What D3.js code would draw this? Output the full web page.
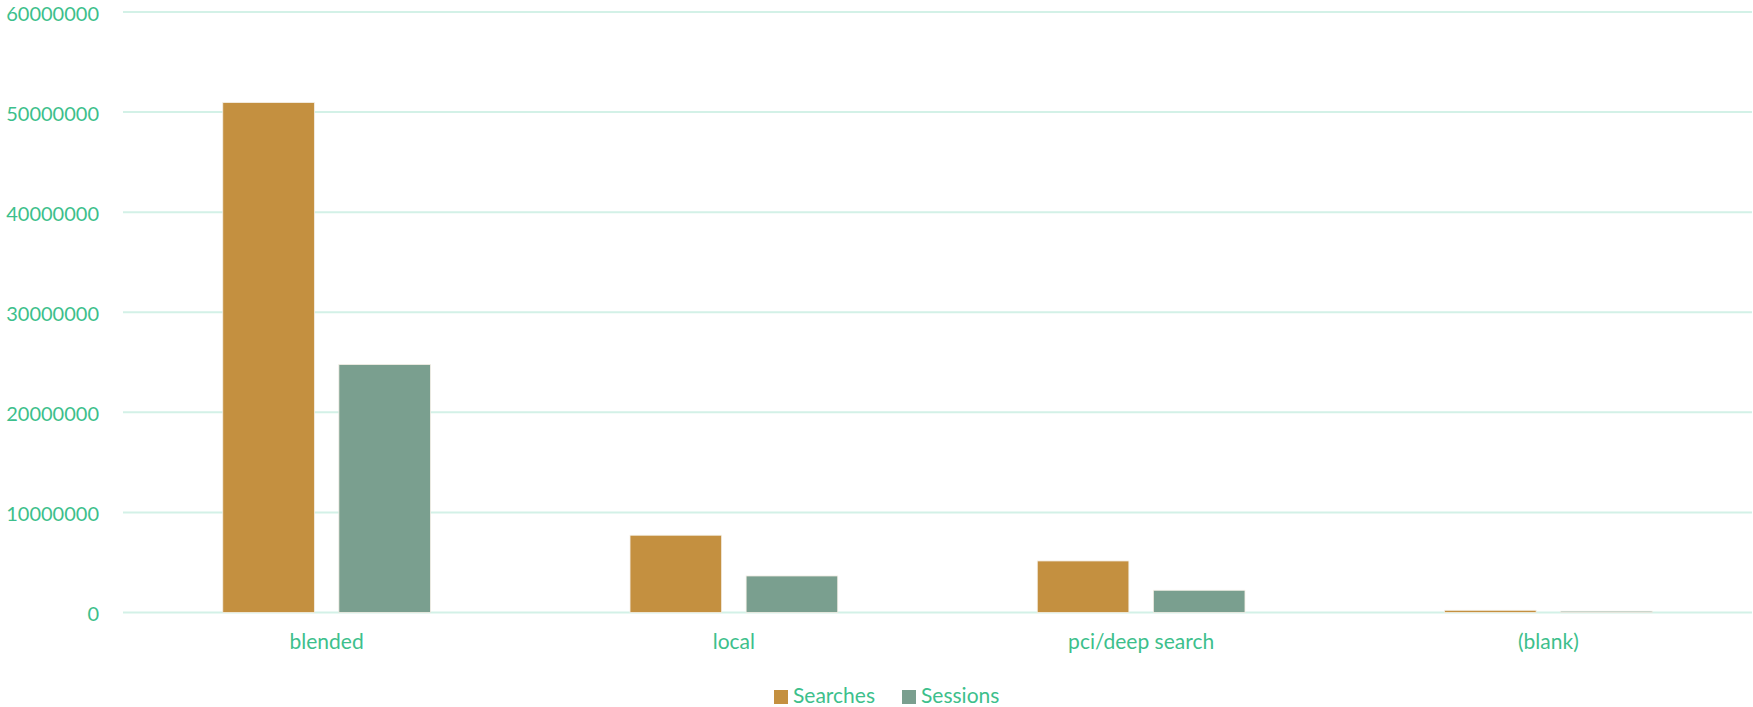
<!DOCTYPE html>
<html lang="en">
  <head>
    <meta charset="UTF-8" />
    <title>searches vs sessions</title>
    <style>
      body {
        margin: 0;
        background: #fff;
        font-family: "Lato", "Noto Sans", sans-serif;
        overflow: hidden;
      }
      .grid line {
        stroke: #d3f1e7;
        stroke-width: 2px;
      }
      .tick text {
        fill: #3dbf8c;
      }
      .legend text {
        fill: #3dbf8c;
      }
    </style>
  </head>
  <body>
    <div id="chart"></div>
    <script src="https://d3js.org/d3.v7.min.js"></script>
    <script>
      // values
      const categories = ["blended", "local", "pci/deep search", "(blank)"];
      const seriesNames = ["Searches", "Sessions"];
      const searches = [50950000, 7720000, 5150000, 220000];
      const sessions = [24780000, 3650000, 2220000, 130000];
      const yTicks = [0, 10000000, 20000000, 30000000, 40000000, 50000000, 60000000];
      const colors = ["#c49040", "#7a9f8f"];

      const width = 1753;
      const height = 707;
      const margin = { top: 12, right: 1, bottom: 94, left: 123 };

      const svg = d3.select("#chart")
        .append("svg")
        .attr("width", width)
        .attr("height", height);

      const x0 = d3.scaleBand()
        .domain(categories)
        .range([margin.left, width - margin.right])
        .paddingInner(0.49)
        .paddingOuter(0.245);

      const x1 = d3.scaleBand()
        .domain(seriesNames)
        .range([0, x0.bandwidth()])
        .paddingInner(0.211);

      const y = d3.scaleLinear()
        .domain([0, 60000000])
        .range([height - margin.bottom - 0.5, margin.top]);

      // gridlines
      svg.append("g")
        .attr("class", "grid")
        .selectAll("line")
        .data(yTicks)
        .join("line")
        .attr("x1", margin.left)
        .attr("x2", width - margin.right)
        .attr("y1", d => y(d))
        .attr("y2", d => y(d));

      // y axis labels
      const yAxis = svg.append("g")
        .attr("transform", `translate(${margin.left - 24},0)`)
        .call(d3.axisLeft(y).tickValues(yTicks).tickFormat(d3.format("d")).tickSize(0).tickPadding(0));
      yAxis.select(".domain").remove();
      yAxis.selectAll("text")
        .attr("font-size", 20)
        .attr("dy", "8px")
        .attr("font-family", "Lato, sans-serif");

      // bars
      const rows = categories.map((c, i) => ({ cat: c, vals: [searches[i], sessions[i]] }));

      svg.append("g")
        .selectAll("g")
        .data(rows)
        .join("g")
        .attr("transform", d => `translate(${x0(d.cat)},0)`)
        .selectAll("rect")
        .data(d => d.vals.map((v, j) => ({ key: seriesNames[j], value: v, j })))
        .join("rect")
        .attr("x", d => x1(d.key))
        .attr("y", d => y(d.value))
        .attr("width", x1.bandwidth())
        .attr("height", d => y(0) - y(d.value))
        .attr("fill", d => colors[d.j])
        .attr("stroke", "#f4efe6")
        .attr("stroke-width", 0.8);

      // category labels
      const xAxis = svg.append("g")
        .attr("transform", `translate(0,${y(0)})`)
        .call(d3.axisBottom(x0).tickSize(0).tickPadding(22));
      xAxis.select(".domain").remove();
      xAxis.selectAll("text")
        .attr("font-size", 21)
        .attr("font-family", "Lato, sans-serif");

      // legend
      const legend = svg.append("g").attr("class", "legend");
      const legendX = [774, 902];
      seriesNames.forEach((name, i) => {
        legend.append("rect")
          .attr("x", legendX[i])
          .attr("y", 690)
          .attr("width", 14)
          .attr("height", 14)
          .attr("fill", colors[i]);
        legend.append("text")
          .attr("x", legendX[i] + 19)
          .attr("y", 703)
          .attr("font-size", 21)
          .text(name);
      });
    </script>
  </body>
</html>
